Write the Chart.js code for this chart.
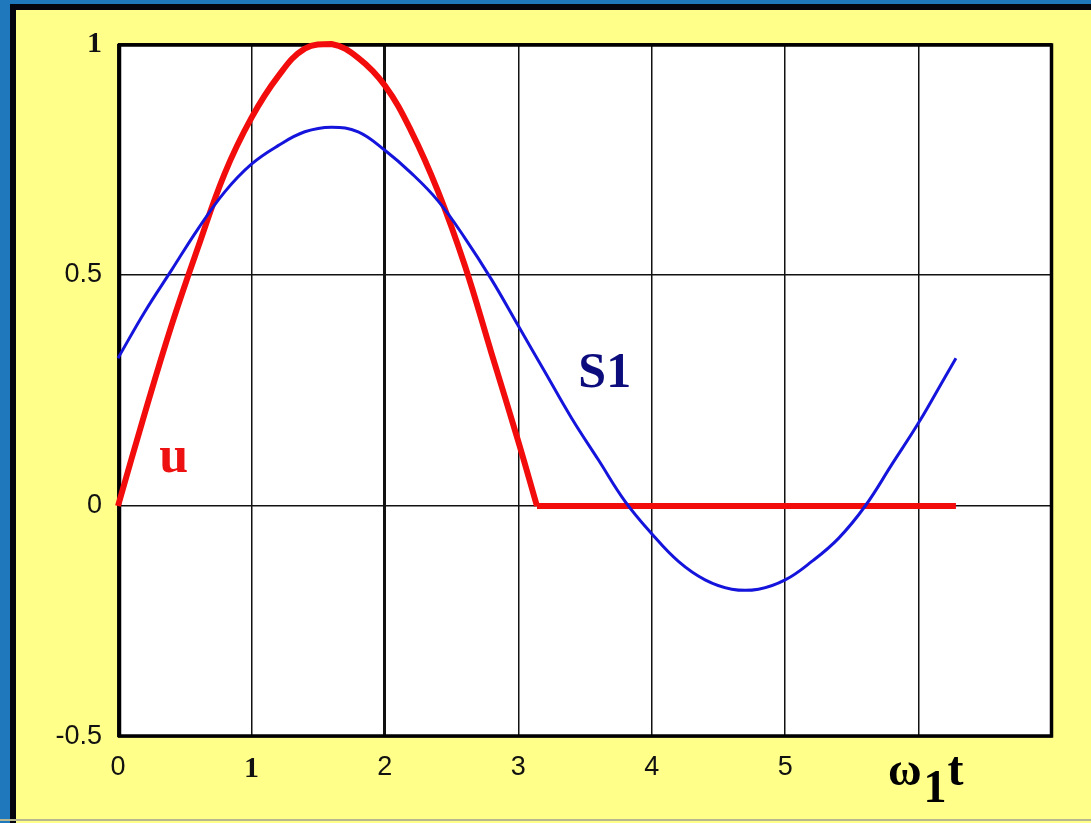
<!DOCTYPE html>
<html>
<head>
<meta charset="utf-8">
<script src="https://cdn.jsdelivr.net/npm/chart.js@4.4.0/dist/chart.umd.min.js"></script>
<style>
  body { margin: 0; background: #ffff8a; }
  #wrap { position: relative; width: 1091px; height: 823px; background: #ffff8a; overflow: hidden; }
  .strip { position: absolute; }
  #graph { position: absolute; left: 0; top: 0; }
</style>
</head>
<body>
<div id="wrap">
  <div class="strip" style="left:0;top:0;width:10px;height:823px;background:#1f78bb"></div>
  <div class="strip" style="left:0;top:0;width:1091px;height:4px;background:#1f78bb"></div>
  <div class="strip" style="left:10px;top:4px;width:6px;height:819px;background:#050510"></div>
  <div class="strip" style="left:10px;top:4px;width:1081px;height:6px;background:#050510"></div>
  <div class="strip" style="left:0;top:819px;width:1091px;height:2px;background:#b8b890"></div>
  <canvas id="graph" width="1091" height="823"></canvas>
</div>
<script>
// 横軸 ω1t の目盛り
var xTicks = [0, 1, 2, 3, 4, 5, 6, 7];
var yTicks = [-0.5, 0, 0.5, 1];

// u（半波整流）: 読み取った値 — 正の半波
var uT      = [0, 0.2, 0.4, 0.6, 0.8, 1.0, 1.2, 1.4, 1.6, 1.8, 2.0, 2.2, 2.4, 2.6, 2.8, 3.0, 3.14];
var uValues = [0, 0.20, 0.39, 0.56, 0.72, 0.84, 0.93, 0.99, 1.00, 0.97, 0.91, 0.81, 0.68, 0.52, 0.33, 0.14, 0];
// u のゼロ区間
var uZeroT      = [3.14, 6.28];
var uZeroValues = [0, 0];

// S1（第1高調波まで）: 読み取った値
var s1T      = [0, 0.2, 0.4, 0.6, 0.8, 1.0, 1.2, 1.4, 1.6, 1.8, 2.0, 2.2, 2.4, 2.6, 2.8, 3.0, 3.2, 3.4, 3.6, 3.8, 4.0, 4.2, 4.4, 4.6, 4.8, 5.0, 5.2, 5.4, 5.6, 5.8, 6.0, 6.2, 6.28];
var s1Values = [0.32, 0.42, 0.51, 0.60, 0.68, 0.74, 0.78, 0.81, 0.82, 0.81, 0.77, 0.72, 0.66, 0.58, 0.49, 0.39, 0.29, 0.19, 0.10, 0.01, -0.06, -0.12, -0.16, -0.18, -0.18, -0.16, -0.12, -0.07, 0.00, 0.09, 0.18, 0.28, 0.32];

function toPoints(xs, ys) {
    return xs.map(function (x, i) { return { x: x, y: ys[i] }; });
}

// 枠と注記
var decoPlugin = {
    id: 'deco',
    beforeDraw: function (chart) {
        var a = chart.chartArea, c = chart.ctx;
        c.save();
        c.fillStyle = '#ffffff';
        c.fillRect(a.left, a.top, a.right - a.left, a.bottom - a.top);
        c.restore();
    },
    beforeDatasetsDraw: function (chart) {
        var a = chart.chartArea, c = chart.ctx;
        c.save();
        c.strokeStyle = '#000';
        c.lineWidth = 3.5;
        c.strokeRect(a.left + 1.5, a.top + 1, a.right - a.left - 2, a.bottom - a.top - 2);
        c.restore();
    },
    afterDraw: function (chart) {
        var xs = chart.scales.x, ys = chart.scales.y, c = chart.ctx;
        c.save();
        c.textBaseline = 'alphabetic';
        c.textAlign = 'left';
        // u
        c.fillStyle = '#ee1111';
        c.font = 'bold 52px "Liberation Serif"';
        c.fillText('u', xs.getPixelForValue(0.31), ys.getPixelForValue(0.074));
        // S1
        c.fillStyle = '#0c0c7c';
        c.font = 'bold 50px "Liberation Serif"';
        c.fillText('S1', xs.getPixelForValue(3.45), ys.getPixelForValue(0.258));
        // ω1t
        c.fillStyle = '#000';
        var bx = xs.getPixelForValue(5.77), by = chart.chartArea.bottom + 48;
        c.font = 'bold 46px "Liberation Serif"';
        c.fillText('ω', bx, by);
        var w = c.measureText('ω').width;
        c.fillText('1', bx + w + 2, by + 17);
        var w1 = c.measureText('1').width;
        c.font = 'bold 48px "Liberation Serif"';
        c.fillText('t', bx + w + w1 + 3, by);
        c.restore();
    }
};

var ctx = document.getElementById('graph');

var chart = new Chart(ctx, {
    type: 'line',
    data: {
        datasets: [{
            label: 'S1',
            data: toPoints(s1T, s1Values),
            borderColor: '#1414dc',
            borderWidth: 3,
            pointRadius: 0,
            tension: 0.4,
            clip: false
        }, {
            label: 'u',
            data: toPoints(uT, uValues),
            borderColor: '#f20c0c',
            borderWidth: 6,
            pointRadius: 0,
            tension: 0.4,
            borderJoinStyle: 'round',
            clip: false
        }, {
            label: 'u0',
            data: toPoints(uZeroT, uZeroValues),
            borderColor: '#f20c0c',
            borderWidth: 6,
            pointRadius: 0,
            tension: 0,
            clip: false
        }]
    },
    options: {
        responsive: false,
        animation: false,
        devicePixelRatio: 1,
        layout: { padding: { top: 44, right: 39, left: 0, bottom: 0 } },
        plugins: {
            legend: { display: false },
            tooltip: { enabled: false }
        },
        scales: {
            x: {
                type: 'linear',
                min: xTicks[0],
                max: xTicks[xTicks.length - 1],
                afterBuildTicks: function (scale) {
                    scale.ticks = xTicks.map(function (v) { return { value: v }; });
                },
                afterFit: function (scale) { scale.height = 86; },
                grid: {
                    color: '#111',
                    lineWidth: function (c) { return c.tick && c.tick.value === 2 ? 3 : 1.5; },
                    drawTicks: false
                },
                border: { display: false },
                ticks: {
                    padding: 14,
                    color: '#111',
                    maxRotation: 0,
                    autoSkip: false,
                    font: function (c) {
                        return c.tick && c.tick.value === 1
                            ? { family: 'Liberation Serif', size: 30, weight: 'bold' }
                            : { family: 'Liberation Sans', size: 27 };
                    },
                    callback: function (v) { return v <= 5 ? String(v) : ''; }
                }
            },
            y: {
                min: yTicks[0],
                max: yTicks[yTicks.length - 1],
                afterBuildTicks: function (scale) {
                    scale.ticks = yTicks.map(function (v) { return { value: v }; });
                },
                afterFit: function (scale) { scale.width = 118; },
                grid: {
                    color: '#111',
                    lineWidth: 1.5,
                    drawTicks: false
                },
                border: { display: false },
                ticks: {
                    padding: 16,
                    color: '#111',
                    font: function (c) {
                        return c.tick && c.tick.value === 1
                            ? { family: 'Liberation Serif', size: 30, weight: 'bold' }
                            : { family: 'Liberation Sans', size: 27 };
                    },
                    callback: function (v) { return String(v); }
                }
            }
        }
    },
    plugins: [decoPlugin]
});
</script>
</body>
</html>
